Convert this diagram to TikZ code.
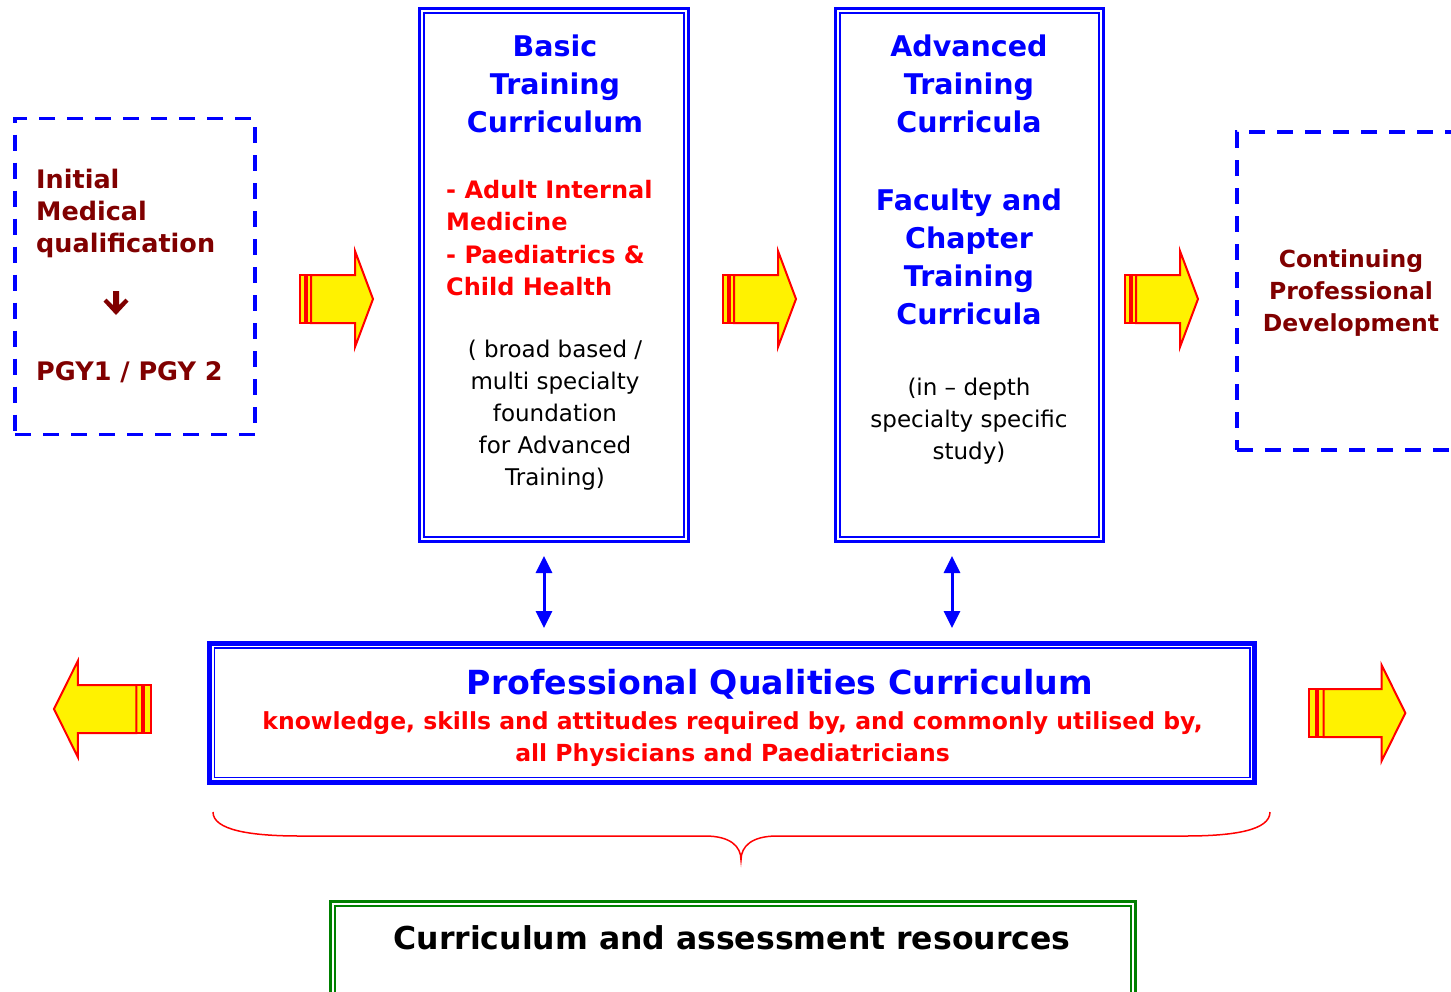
\documentclass[tikz,border=0pt]{standalone}
\usepackage{fontspec}
\setmainfont{DejaVu Sans}
\usetikzlibrary{arrows.meta}
\definecolor{maroonred}{RGB}{128,0,0}
\definecolor{boxgreen}{RGB}{0,128,0}

\tikzset{
  dashbox/.style={draw=blue, line width=3.5pt, dash pattern=on 16pt off 12pt,
    inner sep=0pt, outer sep=0pt},
  framebox/.style={draw=blue, line width=3pt, inner sep=0pt, outer sep=0pt},
  innerframe/.style={draw=blue, line width=2pt},
  arrowline/.style={draw=red, fill=yellow, line width=2pt, line join=miter},
  bluehead/.style={font=\bfseries\fontsize{28.5}{38}\selectfont, text=blue,
    align=center, inner sep=0pt, anchor=north},
  redlist/.style={font=\bfseries\fontsize{24}{32.3}\selectfont, text=red,
    align=left, inner sep=0pt, anchor=north west},
  plainnote/.style={font=\fontsize{23}{32}\selectfont, text=black,
    align=center, inner sep=0pt, anchor=north},
  maroonhead/.style={font=\bfseries\fontsize{25.5}{32}\selectfont, text=maroonred,
    inner sep=0pt},
  updown/.style={draw=blue, line width=3pt,
    {Triangle[width=16pt,length=17pt]}-{Triangle[width=16pt,length=17pt]}},
  blockarrow/.pic={
    \draw[arrowline] (0,-24) rectangle (5,24);
    \draw[arrowline] (6.5,-24) rectangle (11,24);
    \draw[arrowline] (11,-24) -- (55,-24) -- (55,-48) -- (73,0) -- (55,48)
      -- (55,24) -- (11,24) -- cycle;
  }
}

\begin{document}
\begin{tikzpicture}[x=1pt,y=-1pt]
\useasboundingbox (0,0) rectangle (1451,991);
\clip (0,0) rectangle (1451,991);

% --- entry box: initial qualification
\node[dashbox, minimum width=240pt, minimum height=316pt] (initbox) at (135,276.5) {};
\node[maroonhead, align=left, anchor=north west] (inittext) at (36,169)
  {Initial\\Medical\\qualification};
\node[maroonhead, anchor=north west] (pgytext) at (36,361) {PGY1 / PGY 2};
\fill[maroonred] (113,291) -- (119,291) -- (119,305) -- (125.5,298.5) -- (128.5,301.5)
  -- (116,315) -- (103.5,301.5) -- (106.5,298.5) -- (113,305) -- cycle;

% --- basic training
\node[framebox, minimum width=269pt, minimum height=533pt] (basic) at (554,275) {};
\draw[innerframe] ([shift={(4.5,4.5)}]basic.north west)
  rectangle ([shift={(-4.5,-4.5)}]basic.south east);
\node[bluehead] (basictitle) at (555,35) {Basic\\Training\\Curriculum};
\node[redlist] (basiclist) at (446,180)
  {- Adult Internal\\Medicine\\- Paediatrics \&\\Child Health};
\node[plainnote] (basicnote) at (555,340)
  {( broad based /\\multi specialty\\foundation\\for Advanced\\Training)};

% --- advanced training
\node[framebox, minimum width=268pt, minimum height=533pt] (advanced) at (969.5,275) {};
\draw[innerframe] ([shift={(4.5,4.5)}]advanced.north west)
  rectangle ([shift={(-4.5,-4.5)}]advanced.south east);
\node[bluehead] (advtitle) at (969,35) {Advanced\\Training\\Curricula};
\node[bluehead] (factitle) at (969,189) {Faculty and\\Chapter\\Training\\Curricula};
\node[plainnote] (advnote) at (969,378) {(in – depth\\specialty specific\\study)};

% --- continuing professional development
\node[dashbox, minimum width=233pt, minimum height=318pt] (cpdbox) at (1353.5,291) {};
\node[maroonhead, align=center, anchor=north,
  font=\bfseries\fontsize{23.5}{32}\selectfont] (cpdtext) at (1351,249)
  {Continuing\\Professional\\Development};

% --- progression arrows
\pic at (300,299) {blockarrow};
\pic at (723,299) {blockarrow};
\pic at (1125,299) {blockarrow};
\pic[xscale=-1.33] at (151,709) {blockarrow};
\pic[xscale=1.32] at (1309,713) {blockarrow};

% --- professional qualities curriculum
\node[framebox, line width=4.8pt, minimum width=1045pt, minimum height=139.2pt]
  (pqc) at (732,712.9) {};
\draw[innerframe, line width=1.6pt] ([shift={(4.8,4.9)}]pqc.north west)
  rectangle ([shift={(-4.8,-4.9)}]pqc.south east);
\node[inner sep=0pt, anchor=north, text=blue,
  font=\bfseries\fontsize{33.2}{40}\selectfont] (pqctitle) at (780,669.5)
  {Professional Qualities Curriculum};
\node[inner sep=0pt, anchor=north, text=red, align=center,
  font=\bfseries\fontsize{23.5}{32}\selectfont] (pqctext) at (732.5,711)
  {knowledge, skills and attitudes required by, and commonly utilised by,\\
   all Physicians and Paediatricians};

% --- links between the curricula and the common core
\draw[updown, shorten <=14.5pt, shorten >=15.3pt]
  ([xshift=-10pt]basic.south) -- ([xshift=-10pt]basic.south |- pqc.north);
\draw[updown, shorten <=14.5pt, shorten >=15.3pt]
  ([xshift=-17.5pt]advanced.south) -- ([xshift=-17.5pt]advanced.south |- pqc.north);

% --- brace under the whole structure
\draw[red, line width=1.5pt]
  (213,812) .. controls (213,830) and (250,836) .. (300,836) -- (705,836)
  .. controls (730,836) and (741,846) .. (741,860)
  .. controls (741,846) and (752,836) .. (777,836) -- (1185,836)
  .. controls (1235,836) and (1270,830) .. (1270,812);

% --- resources
\node[framebox, draw=boxgreen, minimum width=805pt, minimum height=98.5pt]
  (resbox) at (733,950.75) {};
\draw[innerframe, draw=boxgreen] ([shift={(4.5,4.5)}]resbox.north west)
  rectangle ([shift={(-4.5,-4.5)}]resbox.south east);
\node[inner sep=0pt, anchor=north, font=\bfseries\fontsize{31.5}{38}\selectfont]
  (restext) at (732,925) {Curriculum and assessment resources};
\end{tikzpicture}
\end{document}
